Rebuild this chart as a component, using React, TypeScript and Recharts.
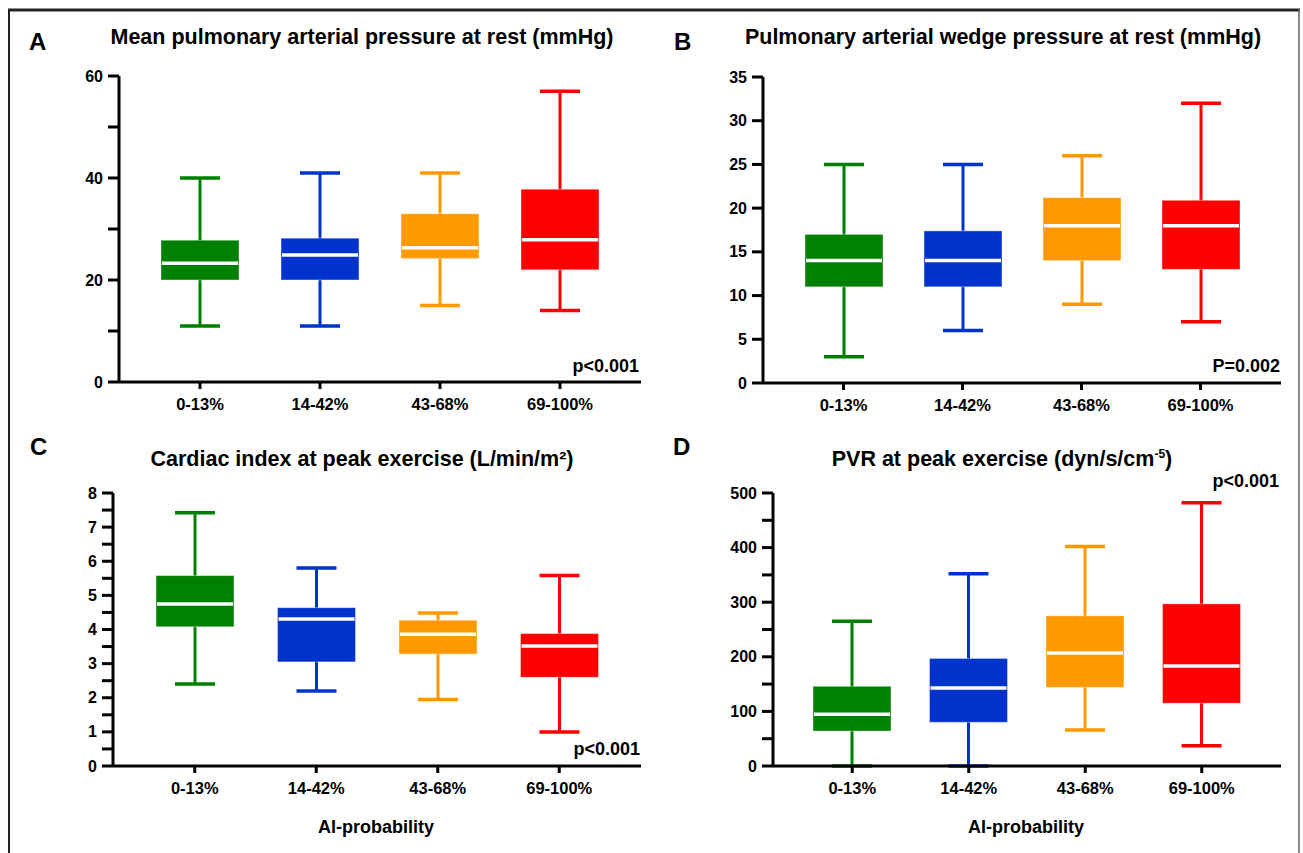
import { ComposedChart, Bar, XAxis, YAxis } from "recharts";

const categories = ["0-13%", "14-42%", "43-68%", "69-100%"];
const colors = ["#008000", "#0033cc", "#ff9900", "#ff0000"];

// A: mean pulmonary arterial pressure at rest
const mpapMin = [11, 11, 15, 14];
const mpapQ1 = [20, 20, 24.2, 22];
const mpapMed = [23.3, 24.9, 26.3, 27.9];
const mpapQ3 = [27.8, 28.2, 33, 37.8];
const mpapMax = [40, 41, 41, 57];
const mpapTicks = [0, 10, 20, 30, 40, 50, 60];

// B: pulmonary arterial wedge pressure at rest
const pawpMin = [3, 6, 9, 7];
const pawpQ1 = [11, 11, 14, 13];
const pawpMed = [14, 14, 18, 18];
const pawpQ3 = [17, 17.4, 21.2, 20.9];
const pawpMax = [25, 25, 26, 32];
const pawpTicks = [0, 5, 10, 15, 20, 25, 30, 35];

// C: cardiac index at peak exercise
const ciMin = [2.4, 2.2, 1.95, 1];
const ciQ1 = [4.08, 3.05, 3.28, 2.6];
const ciMed = [4.75, 4.31, 3.86, 3.52];
const ciQ3 = [5.58, 4.64, 4.27, 3.88];
const ciMax = [7.42, 5.8, 4.48, 5.58];
const ciTicks = [0, 0.5, 1, 1.5, 2, 2.5, 3, 3.5, 4, 4.5, 5, 5.5, 6, 6.5, 7, 7.5, 8];

// D: PVR at peak exercise
const pvrMin = [0, 0, 66, 37];
const pvrQ1 = [64, 80, 144, 115];
const pvrMed = [95, 143, 207, 183];
const pvrQ3 = [146, 197, 275, 297];
const pvrMax = [265, 352, 402, 482];
const pvrTicks = [0, 50, 100, 150, 200, 250, 300, 350, 400, 450, 500];

const FONT = "'Liberation Sans', Arial, sans-serif";

const buildRows = (mn: number[], q1: number[], md: number[], q3: number[], mx: number[]) =>
  categories.map((name, i) => ({
    name,
    min: mn[i],
    q1: q1[i],
    med: md[i],
    q3: q3[i],
    max: mx[i],
    color: colors[i],
  }));

/**
 * Box and whisker drawn inside the range bar [min, max].
 */
const BoxShape = (props: any) => {
  const { x, y, width, height, payload } = props;
  const top = Math.min(y, y + height);
  const h = Math.abs(height);
  const span = payload.max - payload.min || 1;
  const py = (v: number) => top + ((payload.max - v) / span) * h;
  const cx = x + width / 2;
  const cap = 40;
  const c = payload.color;
  return (
    <g>
      <line x1={cx} x2={cx} y1={py(payload.max)} y2={py(payload.min)} stroke={c} strokeWidth={3} />
      <line x1={cx - cap / 2} x2={cx + cap / 2} y1={py(payload.max)} y2={py(payload.max)} stroke={c} strokeWidth={3.5} />
      <line x1={cx - cap / 2} x2={cx + cap / 2} y1={py(payload.min)} y2={py(payload.min)} stroke={c} strokeWidth={3.5} />
      <rect
        x={x}
        y={py(payload.q3)}
        width={width}
        height={py(payload.q1) - py(payload.q3)}
        fill={c}
        stroke="#ffffff"
        strokeOpacity={0.4}
        strokeWidth={1}
      />
      <line x1={x + 1} x2={x + width - 1} y1={py(payload.med)} y2={py(payload.med)} stroke="#ffffff" strokeWidth={3.5} />
    </g>
  );
};

const makeYTick = (isMajor: (v: number) => boolean) => (props: any) => {
  const { x, y, payload } = props;
  if (!isMajor(payload.value)) return <g />;
  return (
    <text x={x} y={y} dy={5.5} textAnchor="end" fontSize={16} fontWeight="bold" fill="#000" fontFamily={FONT}>
      {payload.value}
    </text>
  );
};

interface PanelProps {
  rows: any[];
  ticks: number[];
  domain: [number, number];
  isMajor: (v: number) => boolean;
  left: number;
  top: number;
  width: number;
  height: number;
  margin: { top: number; right: number; bottom: number; left: number };
}

const Panel = ({ rows, ticks, domain, isMajor, left, top, width, height, margin }: PanelProps) => (
  <div style={{ position: "absolute", left, top, width, height }}>
    <ComposedChart width={width} height={height} data={rows} margin={margin} style={{ fontFamily: FONT }}>
      <XAxis
        dataKey="name"
        type="category"
        interval={0}
        padding={{ left: 21, right: 21 }}
        height={30}
        tickSize={7}
        tickMargin={9}
        axisLine={{ stroke: "#000", strokeWidth: 3 }}
        tickLine={{ stroke: "#000", strokeWidth: 3 }}
        tick={{ fill: "#000", fontSize: 16.5, fontWeight: "bold", fontFamily: FONT }}
      />
      <YAxis
        type="number"
        domain={domain}
        ticks={ticks}
        interval={0}
        width={60}
        tickSize={11}
        tickMargin={5}
        axisLine={{ stroke: "#000", strokeWidth: 3 }}
        tickLine={{ stroke: "#000", strokeWidth: 3 }}
        tick={makeYTick(isMajor)}
      />
      <Bar
        dataKey={(d: any) => [d.min, d.max]}
        barSize={78}
        shape={<BoxShape />}
        isAnimationActive={false}
      />
    </ComposedChart>
  </div>
);

const textStyle = { fontFamily: FONT, fontWeight: "bold" as const, fill: "#000" };

const App = () => {
  const rowsA = buildRows(mpapMin, mpapQ1, mpapMed, mpapQ3, mpapMax);
  const rowsB = buildRows(pawpMin, pawpQ1, pawpMed, pawpQ3, pawpMax);
  const rowsC = buildRows(ciMin, ciQ1, ciMed, ciQ3, ciMax);
  const rowsD = buildRows(pvrMin, pvrQ1, pvrMed, pvrQ3, pvrMax);

  return (
    <div style={{ position: "absolute", left: 0, top: 0, width: 1303, height: 853, background: "#fff", overflow: "hidden" }}>
      <Panel
        rows={rowsA}
        ticks={mpapTicks}
        domain={[0, 60]}
        isMajor={(v) => v % 20 === 0}
        left={0}
        top={0}
        width={660}
        height={420}
        margin={{ top: 76, right: 19, bottom: 8, left: 59 }}
      />
      <Panel
        rows={rowsB}
        ticks={pawpTicks}
        domain={[0, 35]}
        isMajor={() => true}
        left={650}
        top={0}
        width={653}
        height={420}
        margin={{ top: 77, right: 22, bottom: 7, left: 53 }}
      />
      <Panel
        rows={rowsC}
        ticks={ciTicks}
        domain={[0, 8]}
        isMajor={(v) => Number.isInteger(v)}
        left={0}
        top={420}
        width={660}
        height={433}
        margin={{ top: 73, right: 19, bottom: 57, left: 53 }}
      />
      <Panel
        rows={rowsD}
        ticks={pvrTicks}
        domain={[0, 500]}
        isMajor={(v) => v % 100 === 0}
        left={650}
        top={420}
        width={653}
        height={433}
        margin={{ top: 73, right: 22, bottom: 57, left: 63 }}
      />
      <svg width={1303} height={853} style={{ position: "absolute", left: 0, top: 0, pointerEvents: "none" }}>
        <line x1={8} x2={1300} y1={10} y2={10} stroke="#222" strokeWidth={3} />
        <line x1={9} x2={9} y1={9} y2={853} stroke="#222" strokeWidth={2} />
        <line x1={1299} x2={1299} y1={9} y2={853} stroke="#666" strokeWidth={1.5} />

        <text x={29} y={50} fontSize={24} {...textStyle}>A</text>
        <text x={674} y={50} fontSize={24} {...textStyle}>B</text>
        <text x={30} y={455} fontSize={24} {...textStyle}>C</text>
        <text x={673} y={455} fontSize={24} {...textStyle}>D</text>

        <text x={362} y={44} fontSize={21.5} textAnchor="middle" {...textStyle}>
          Mean pulmonary arterial pressure at rest (mmHg)
        </text>
        <text x={1003} y={44} fontSize={21.5} textAnchor="middle" {...textStyle}>
          Pulmonary arterial wedge pressure at rest (mmHg)
        </text>
        <text x={362} y={466} fontSize={21.5} textAnchor="middle" {...textStyle}>
          Cardiac index at peak exercise (L/min/m²)
        </text>
        <text x={1002} y={466} fontSize={21.5} textAnchor="middle" {...textStyle}>
          PVR at peak exercise (dyn/s/cm<tspan fontSize={12} dy={-8}>-5</tspan><tspan dy={8}>)</tspan>
        </text>

        <text x={639} y={372} fontSize={18} textAnchor="end" {...textStyle}>p&lt;0.001</text>
        <text x={1280} y={372} fontSize={18} textAnchor="end" {...textStyle}>P=0.002</text>
        <text x={640} y={755} fontSize={18} textAnchor="end" {...textStyle}>p&lt;0.001</text>
        <text x={1279} y={487} fontSize={18} textAnchor="end" {...textStyle}>p&lt;0.001</text>

        <text x={376} y={833} fontSize={18} textAnchor="middle" {...textStyle}>AI-probability</text>
        <text x={1026} y={833} fontSize={18} textAnchor="middle" {...textStyle}>AI-probability</text>
      </svg>
    </div>
  );
};

export default App;
